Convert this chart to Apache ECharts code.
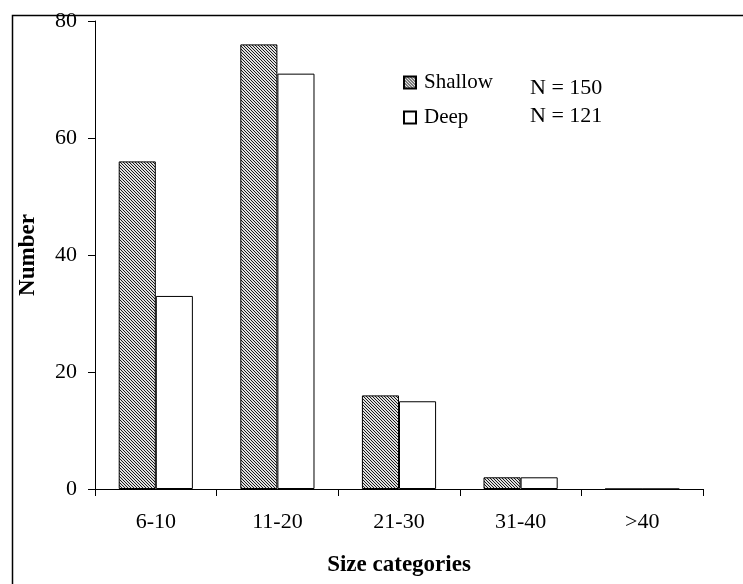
<!DOCTYPE html>
<html>
<head>
<meta charset="utf-8">
<script src="https://cdn.jsdelivr.net/npm/echarts@6/dist/echarts.min.js"></script>
<style>
html,body{margin:0;padding:0;background:#fff;}
#chart{width:743px;height:584px;}
</style>
</head>
<body>
<div id="chart"></div>
<script>
const categories = ['6-10', '11-20', '21-30', '31-40', '>40'];
const shallowValues = [56, 76, 16, 2, 0];
const deepValues = [33, 71, 15, 2, 0];
const yTicks = [0, 20, 40, 60, 80];
const seriesNames = ['Shallow', 'Deep'];
const nLabels = ['N = 150', 'N = 121'];

function hatch() {
  const c = document.createElement('canvas');
  c.width = 3; c.height = 3;
  const ctx = c.getContext('2d');
  ctx.fillStyle = '#e0e0e0';
  ctx.fillRect(0, 0, 3, 3);
  ctx.fillStyle = '#1a1a1a';
  for (let i = 0; i < 3; i++) ctx.fillRect(i, i, 1, 1);
  return c;
}
const pat = { image: hatch(), repeat: 'repeat' };
const font = 'Liberation Serif';

const chart = echarts.init(document.getElementById('chart'));
chart.setOption({
  animation: false,
  backgroundColor: '#fff',
  textStyle: { fontFamily: font, color: '#000' },
  grid: { left: 95, top: 21, right: 40, bottom: 95 },
  legend: {
    orient: 'vertical', left: 398, top: 67,
    itemWidth: 12, itemHeight: 12, itemGap: 14,
    icon: 'rect',
    textStyle: { fontFamily: font, fontSize: 21, color: '#000', padding: [0, 0, 0, 3] },
    data: seriesNames
  },
  xAxis: {
    type: 'category', data: categories,
    axisLine: { lineStyle: { color: '#000', width: 1 } },
    axisTick: { show: true, length: 7, lineStyle: { color: '#000' }, alignWithLabel: false },
    axisLabel: { fontFamily: font, fontSize: 22, color: '#000', margin: 22 },
    name: 'Size categories', nameLocation: 'middle', nameGap: 65,
    nameTextStyle: { fontFamily: font, fontSize: 23, fontWeight: 'bold', color: '#000' }
  },
  yAxis: {
    type: 'value', min: 0, max: 80, interval: 20,
    axisLine: { show: true, lineStyle: { color: '#000', width: 1 } },
    axisTick: { show: true, length: 7, lineStyle: { color: '#000' } },
    splitLine: { show: false },
    axisLabel: { fontFamily: font, fontSize: 22, color: '#000', margin: 18,
      formatter: v => yTicks.includes(v) ? String(v) : '' },
    name: 'Number', nameLocation: 'middle', nameGap: 55,
    nameTextStyle: { fontFamily: font, fontSize: 23, fontWeight: 'bold', color: '#000' }
  },
  series: [
    { name: seriesNames[0], type: 'bar', data: shallowValues, barGap: '0%', barCategoryGap: '39%',
      itemStyle: { color: pat, borderColor: '#000', borderWidth: 1 } },
    { name: seriesNames[1], type: 'bar', data: deepValues,
      itemStyle: { color: '#fff', borderColor: '#000', borderWidth: 1 } }
  ],
  graphic: [
    { type: 'rect', left: 10, top: 13, shape: { width: 800, height: 700 },
      style: { fill: 'none', stroke: '#000', lineWidth: 1.5 }, silent: true, z: 100 },
    { type: 'text', x: 530, y: 88, style: { text: nLabels[0], font: '22px "Liberation Serif"', fill: '#000', verticalAlign: 'middle' } },
    { type: 'text', x: 530, y: 116, style: { text: nLabels[1], font: '22px "Liberation Serif"', fill: '#000', verticalAlign: 'middle' } }
  ]
});
</script>
</body>
</html>
